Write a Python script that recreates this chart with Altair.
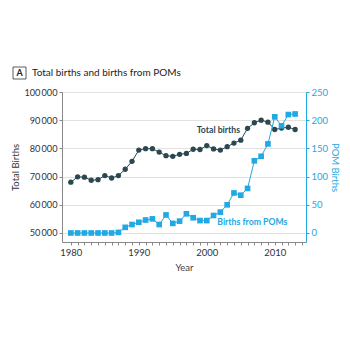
import altair as alt
import pandas as pd

years = list(range(1980, 2014))
total_births = [68000, 69900, 69800, 68700, 68900, 70350, 69500, 70350, 72600, 75400,
                79400, 79900, 79900, 78700, 77400, 77200, 77900, 78200, 79700, 79600,
                81000, 79800, 79400, 80600, 81900, 82900, 87100, 89100, 90000, 89300,
                86700, 87200, 87500, 86700]
pom_births = [0, 0, 0, 0, 0, 0, 0, 1, 10, 15,
              19, 23, 25, 15, 32, 17, 21, 34, 27, 22,
              22, 31, 37, 50, 71, 67, 79, 128, 136, 158,
              206, 190, 210, 211]

df = pd.DataFrame({"year": years, "total": total_births, "pom": pom_births})

DARK = "#2b4850"
BLUE = "#22a8e2"
FONT = "Lato"

xscale = alt.Scale(domain=[1978.7, 2014.6], nice=False, zero=False)
xaxis = alt.Axis(values=list(range(1980, 2015)),
                 labelExpr="datum.value % 10 == 0 ? datum.value : ''",
                 labelOverlap=False, labelFlush=False,
                 title="Year", grid=False, tickSize=3, domainColor="#888",
                 tickColor="#888", labelColor="#333", labelFontSize=9.5,
                 titleFontSize=9.5, titleFontWeight="normal", titleColor="#444",
                 labelFont=FONT, titleFont=FONT, titlePadding=6, labelPadding=2)

lscale = alt.Scale(domain=[46800, 100000], nice=False, zero=False)
laxis = alt.Axis(values=[50000, 60000, 70000, 80000, 90000, 100000],
                 labelExpr="replace(format(datum.value, ','), ',', '\u2009')",
                 labelOverlap=False, labelFlush=False,
                 title="Total Births", grid=True, gridColor="#e2e2e2",
                 tickSize=3, domainColor="#888", tickColor="#888",
                 labelColor="#333", labelFontSize=9.2, titleFontSize=9.5,
                 titleFontWeight="normal", titleColor="#333", labelFont=FONT,
                 titleFont=FONT, titlePadding=3, labelPadding=2)

rscale = alt.Scale(domain=[-16, 250], nice=False, zero=False)
raxis = alt.Axis(values=[0, 50, 100, 150, 200, 250], orient="right",
                 labelOverlap=False, labelFlush=False,
                 title="POM Births", grid=False, tickSize=3, domainColor=BLUE,
                 tickColor=BLUE, labelColor=BLUE, labelFontSize=9.5,
                 titleFontSize=9.5, titleFontWeight="normal", titleColor=BLUE,
                 labelFont=FONT, titleFont=FONT, titlePadding=2, labelPadding=2)

X = alt.X("year:Q", scale=xscale, axis=xaxis)
YL = alt.Y("total:Q", scale=lscale, axis=laxis)
YR = alt.Y("pom:Q", scale=rscale, axis=raxis)

base = alt.Chart(df)

total_line = base.mark_line(color=DARK, strokeWidth=1).encode(x=X, y=YL)
total_pts = base.mark_circle(color=DARK, size=28, opacity=1).encode(x=X, y=YL)
total_lab = alt.Chart(pd.DataFrame({"year": [2001.7], "total": [86500],
                                    "t": ["Total births"]})).mark_text(
    color=DARK, font=FONT, fontSize=8.7, fontWeight="bold").encode(
    x=X, y=YL, text="t:N")

box = alt.Chart(pd.DataFrame({"a": [0]})).mark_rect(
    fill="white", stroke="#333", strokeWidth=0.8).encode(
    x=alt.value(-49), x2=alt.value(-36), y=alt.value(-25), y2=alt.value(-13))
box_t = alt.Chart(pd.DataFrame({"t": ["A"]})).mark_text(
    font=FONT, fontSize=9, fontWeight="bold", color="#222").encode(
    x=alt.value(-42.5), y=alt.value(-19), text="t:N")
title_t = alt.Chart(pd.DataFrame({"t": ["Total births and births from POMs"]})).mark_text(
    font=FONT, fontSize=10, color="#222", align="left").encode(
    x=alt.value(-30), y=alt.value(-19), text="t:N")

left = alt.layer(total_line, total_pts, total_lab, box, box_t, title_t)

pom_line = base.mark_line(color=BLUE, strokeWidth=1).encode(x=X, y=YR)
pom_pts = base.mark_square(color=BLUE, size=32, opacity=1).encode(x=X, y=YR)
pom_lab = alt.Chart(pd.DataFrame({"year": [2006.7], "pom": [19.5],
                                  "t": ["Births from POMs"]})).mark_text(
    color=BLUE, font=FONT, fontSize=8.7, fontWeight="bold").encode(
    x=X, y=YR, text="t:N")

right = alt.layer(pom_line, pom_pts, pom_lab)

chart = alt.layer(left, right).resolve_scale(y="independent").properties(
    width=244, height=150,
    autosize=alt.AutoSizeParams(type="none"),
    padding={"left": 62, "top": 92, "right": 44, "bottom": 108},
).configure_view(stroke=None).configure(background="white")

chart.save("out.html", embed_options={"renderer": "svg", "actions": False})
